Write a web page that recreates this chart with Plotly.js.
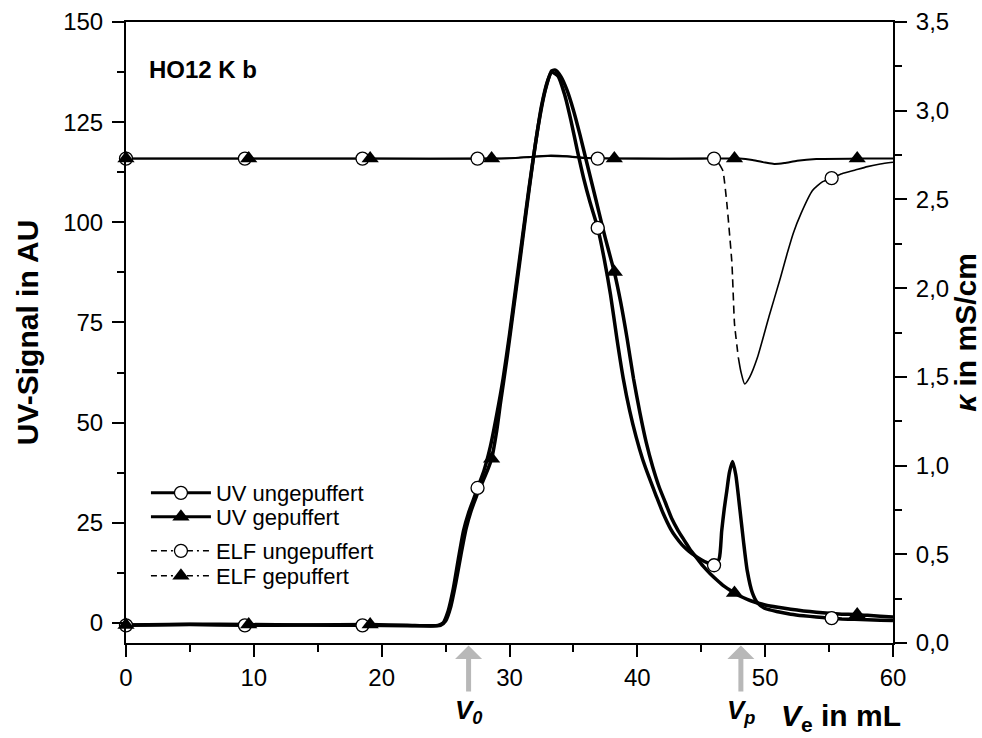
<!DOCTYPE html>
<html>
<head>
<meta charset="utf-8">
<script src="https://cdn.plot.ly/plotly-3.0.1.min.js"></script>
<style>html,body{margin:0;padding:0;background:#fff;}#chart{width:982px;height:738px;}</style>
</head>
<body>
<div id="chart"></div>
<script>
// ---------- data ----------
// UV signal (left axis, AU) vs elution volume (mL)
const uvUngX = [0, 5, 9.3, 14, 18.5, 22, 24.4, 24.8, 25.2, 25.6, 26.0, 26.4, 26.8, 27.2, 27.5, 28.0, 28.5, 29.0, 29.5, 30.0, 30.5, 31.0, 31.5, 32.0, 32.5, 33.0, 33.3, 33.8, 34.3, 34.8, 35.3, 35.8, 36.3, 36.9, 37.4, 37.9, 38.4, 38.9, 39.4, 39.9, 40.4, 40.9, 41.5, 42.0, 42.6, 43.0, 43.5, 44.0, 44.5, 45.0, 45.5, 46.0, 46.4, 46.6, 46.8, 47.0, 47.2, 47.45, 47.7, 48.0, 48.3, 48.6, 49.0, 49.4, 50, 51, 52, 53, 54, 55, 56, 57, 58, 59, 60];
const uvUngY = [-0.6, -0.4, -0.6, -0.5, -0.6, -0.7, -0.6, 0, 3, 8.5, 16, 23, 27.5, 31, 33.7, 38, 44, 52, 61, 72, 84, 96, 108, 119, 129, 135.5, 137.5, 136.5, 132, 125.5, 118, 111, 105, 98.6, 91, 82, 71, 61, 53, 46.5, 41, 36.5, 31.5, 27.5, 23.5, 21.5, 19.5, 18, 16.8, 15.8, 15, 14.4, 16, 23, 28.5, 33, 37.5, 40.3, 37, 29, 20.5, 13, 7.5, 5.0, 3.6, 2.8, 2.2, 1.8, 1.5, 1.2, 1.0, 0.9, 0.8, 0.7, 0.6];

const uvGepX = [0, 5, 9.6, 14, 19.1, 22, 24.6, 25.0, 25.4, 25.8, 26.2, 26.6, 27.0, 27.4, 27.8, 28.2, 28.6, 29.0, 29.3, 29.8, 30.3, 30.8, 31.3, 31.8, 32.3, 32.8, 33.3, 33.6, 34.0, 34.5, 35.0, 35.5, 36.0, 36.5, 37.0, 37.5, 38.0, 38.2, 38.7, 39.2, 39.7, 40.2, 40.7, 41.2, 41.7, 42.2, 42.7, 43.2, 43.7, 44.2, 44.7, 45.2, 45.7, 46.2, 46.7, 47.2, 47.6, 48.1, 48.6, 49.1, 50, 51, 52, 53, 54, 55, 56, 57, 58, 59, 60];
const uvGepY = [-0.5, -0.3, -0.4, -0.5, -0.4, -0.6, -0.6, 0.5, 4, 10, 17, 23.5, 28, 31.5, 34.5, 37.5, 41, 48, 55, 66, 78, 90, 102.5, 114.5, 125, 133, 137.8, 138, 136.5, 133, 128, 122, 115.5, 109, 102.5, 96, 90, 87.6, 80, 71, 61, 52.5, 45, 39, 34, 30, 26, 23, 20.5, 18, 16, 14, 12.3, 10.8, 9.4, 8.3, 7.5, 6.6, 5.9, 5.3, 4.5, 3.9, 3.4, 3.0, 2.7, 2.4, 2.2, 2.1, 1.9, 1.7, 1.5];

// Conductivity (right axis, mS/cm)
const elfUngX = [0, 10, 20, 28, 30, 31.5, 33, 34.5, 36, 40, 45, 46.0, 46.4, 46.7, 47.0, 47.4, 47.6, 47.9, 48.1, 48.4, 48.8, 49.4, 50.3, 51.2, 51.7, 52.2, 52.8, 53.7, 54.5, 55.2, 56, 57, 58, 59, 60];
const elfUngY = [2.73, 2.73, 2.73, 2.73, 2.732, 2.74, 2.748, 2.745, 2.735, 2.73, 2.73, 2.73, 2.70, 2.66, 2.48, 2.14, 1.80, 1.61, 1.53, 1.46, 1.50, 1.61, 1.84, 2.06, 2.19, 2.31, 2.42, 2.55, 2.60, 2.62, 2.645, 2.665, 2.685, 2.70, 2.71];
const elfGepX = [0, 10, 20, 28, 30, 31.5, 33, 34.5, 36, 40, 45, 48, 49, 50, 50.7, 51.5, 52.5, 54, 57, 60];
const elfGepY = [2.73, 2.73, 2.73, 2.73, 2.732, 2.738, 2.745, 2.742, 2.733, 2.73, 2.73, 2.73, 2.722, 2.708, 2.70, 2.705, 2.718, 2.728, 2.73, 2.73];

// symbol positions on the curves
const uvUngMX = [0, 9.3, 18.5, 27.5, 36.9, 46.0, 55.2];
const uvUngMY = [-0.6, -0.6, -0.6, 33.7, 98.6, 14.4, 1.2];
const uvGepMX = [0, 9.6, 19.1, 28.6, 38.2, 47.6, 57.2];
const uvGepMY = [-0.5, -0.4, -0.4, 41, 87.6, 7.5, 2.1];
const elfUngMX = [0, 9.3, 18.5, 27.5, 36.9, 46.0, 55.2];
const elfUngMY = [2.73, 2.73, 2.73, 2.73, 2.73, 2.73, 2.62];
const elfGepMX = [0, 9.6, 19.1, 28.6, 38.2, 47.6, 57.2];
const elfGepMY = [2.73, 2.73, 2.73, 2.73, 2.73, 2.73, 2.73];

// labels
const seriesNames = ['UV ungepuffert', 'UV gepuffert', 'ELF ungepuffert', 'ELF gepuffert'];
const sampleLabel = 'HO12 K b';
const markV0 = 26.8;   // V0 (mL)
const markVp = 48.1;   // Vp (mL)

// ---------- styling ----------
const BLACK = '#000000';
const FONT = 'Arial, "Liberation Sans", Helvetica, sans-serif';
const circleMarker = {symbol: 'circle', size: 13, color: '#ffffff', line: {color: BLACK, width: 1.3}};
const triMarker = {symbol: 'triangle-up', size: 15, color: BLACK, line: {color: BLACK, width: 0}};
const elfDash = '6px,4px,6px,4px,2px,4px';

// dashed part of the steep ELF drop
const dStart = elfUngX.indexOf(46.4), dEnd = elfUngX.indexOf(47.9);

const traces = [
  // ELF lines (right axis)
  {x: elfGepX, y: elfGepY, yaxis: 'y2', mode: 'lines', line: {color: BLACK, width: 2, shape: 'spline', smoothing: 0.6}, showlegend: false, hoverinfo: 'skip'},
  {x: elfUngX.slice(0, dStart + 1), y: elfUngY.slice(0, dStart + 1), yaxis: 'y2', mode: 'lines', line: {color: BLACK, width: 1.6, shape: 'spline', smoothing: 0.6}, showlegend: false, hoverinfo: 'skip'},
  {x: elfUngX.slice(dStart, dEnd + 1), y: elfUngY.slice(dStart, dEnd + 1), yaxis: 'y2', mode: 'lines', line: {color: BLACK, width: 1.6, dash: '8px,5px', shape: 'spline', smoothing: 0.4}, showlegend: false, hoverinfo: 'skip'},
  {x: elfUngX.slice(dEnd), y: elfUngY.slice(dEnd), yaxis: 'y2', mode: 'lines', line: {color: BLACK, width: 1.6, shape: 'spline', smoothing: 0.6}, showlegend: false, hoverinfo: 'skip'},
  // UV lines (left axis)
  {x: uvUngX, y: uvUngY, mode: 'lines', line: {color: BLACK, width: 3.5, shape: 'spline', smoothing: 0.6}, showlegend: false, hoverinfo: 'skip'},
  {x: uvGepX, y: uvGepY, mode: 'lines', line: {color: BLACK, width: 3.5, shape: 'spline', smoothing: 0.6}, showlegend: false, hoverinfo: 'skip'},
  // symbols
  {x: elfUngMX, y: elfUngMY, yaxis: 'y2', mode: 'markers', marker: circleMarker, showlegend: false, cliponaxis: false, hoverinfo: 'skip'},
  {x: elfGepMX, y: elfGepMY, yaxis: 'y2', mode: 'markers', marker: triMarker, showlegend: false, cliponaxis: false, hoverinfo: 'skip'},
  {x: uvUngMX, y: uvUngMY, mode: 'markers', marker: circleMarker, showlegend: false, cliponaxis: false, hoverinfo: 'skip'},
  {x: uvGepMX, y: uvGepMY, mode: 'markers', marker: triMarker, showlegend: false, cliponaxis: false, hoverinfo: 'skip'},
  // legend entries (one small legend each, so the rows sit where the reference has them)
  {x: [null], y: [null], name: seriesNames[0], legend: 'legend', mode: 'lines+markers', line: {color: BLACK, width: 3}, marker: circleMarker},
  {x: [null], y: [null], name: seriesNames[1], legend: 'legend2', mode: 'lines+markers', line: {color: BLACK, width: 3}, marker: triMarker},
  {x: [null], y: [null], name: seriesNames[2], legend: 'legend3', mode: 'lines+markers', line: {color: BLACK, width: 1.5, dash: elfDash}, marker: circleMarker},
  {x: [null], y: [null], name: seriesNames[3], legend: 'legend4', mode: 'lines+markers', line: {color: BLACK, width: 1.5, dash: elfDash}, marker: triMarker}
];

function legendAt(yPaper) {
  return {x: 0.026, y: yPaper, xanchor: 'left', yanchor: 'middle', bgcolor: 'rgba(0,0,0,0)', borderwidth: 0,
          font: {size: 22, family: FONT, color: BLACK}, itemwidth: 60};
}

const axisCommon = {
  showline: true, linecolor: BLACK, linewidth: 2,
  ticks: 'outside', ticklen: 12, tickwidth: 2, tickcolor: BLACK,
  showgrid: false, zeroline: false,
  tickfont: {size: 24, color: BLACK, family: FONT},
  ticklabelstandoff: 4
};

const layout = {
  width: 982, height: 738,
  margin: {l: 126, r: 89, t: 22, b: 95, pad: 0},
  paper_bgcolor: '#ffffff', plot_bgcolor: '#ffffff',
  separators: ', ',
  font: {family: FONT, color: BLACK},
  showlegend: true,
  legend: legendAt(0.2415),
  legend2: legendAt(0.2029),
  legend3: legendAt(0.1481),
  legend4: legendAt(0.1079),
  xaxis: Object.assign({}, axisCommon, {
    range: [0, 60], tick0: 0, dtick: 10, mirror: true,
    ticklabelstandoff: 0,
    minor: {dtick: 5, ticks: 'outside', ticklen: 7, tickwidth: 2, tickcolor: BLACK, showgrid: false}
  }),
  yaxis: Object.assign({}, axisCommon, {
    range: [-5, 150], tick0: 0, dtick: 25,
    minor: {dtick: 12.5, ticks: 'outside', ticklen: 7, tickwidth: 2, tickcolor: BLACK, showgrid: false},
    title: {text: '<b>UV-Signal in AU</b>', font: {size: 30, family: FONT, color: BLACK}, standoff: 16}
  }),
  yaxis2: Object.assign({}, axisCommon, {
    overlaying: 'y', side: 'right', range: [0, 3.5], tick0: 0, dtick: 0.5, tickformat: '.1f',
    minor: {dtick: 0.25, ticks: 'outside', ticklen: 7, tickwidth: 2, tickcolor: BLACK, showgrid: false},
    title: {text: '<b><i>κ</i> in mS/cm</b>', font: {size: 30, family: FONT, color: BLACK}, standoff: 4}
  }),
  annotations: [
    {text: '<b>' + sampleLabel + '</b>', xref: 'paper', yref: 'paper', x: 0.028, y: 0.923, xanchor: 'left', yanchor: 'middle', showarrow: false, font: {size: 24, family: FONT, color: BLACK}},
    {text: '<b><i>V<sub>0</sub></i></b>', xref: 'x', yref: 'paper', x: markV0, y: -0.004, ax: 0, ay: 66, showarrow: true, arrowhead: 1, arrowsize: 0.9, arrowwidth: 5, arrowcolor: '#b8b8b8', standoff: 0, startstandoff: 2, font: {size: 26, family: FONT, color: BLACK}},
    {text: '<b><i>V<sub>p</sub></i></b>', xref: 'x', yref: 'paper', x: markVp, y: -0.004, ax: 0, ay: 66, showarrow: true, arrowhead: 1, arrowsize: 0.9, arrowwidth: 5, arrowcolor: '#b8b8b8', standoff: 0, startstandoff: 2, font: {size: 26, family: FONT, color: BLACK}},
    {text: '<b><i>V</i><sub>e</sub> in mL</b>', xref: 'paper', yref: 'paper', x: 0.852, y: -0.12, xanchor: 'left', yanchor: 'middle', showarrow: false, font: {size: 30, family: FONT, color: BLACK}}
  ]
};

Plotly.newPlot('chart', traces, layout, {displayModeBar: false, staticPlot: true});
</script>
</body>
</html>
